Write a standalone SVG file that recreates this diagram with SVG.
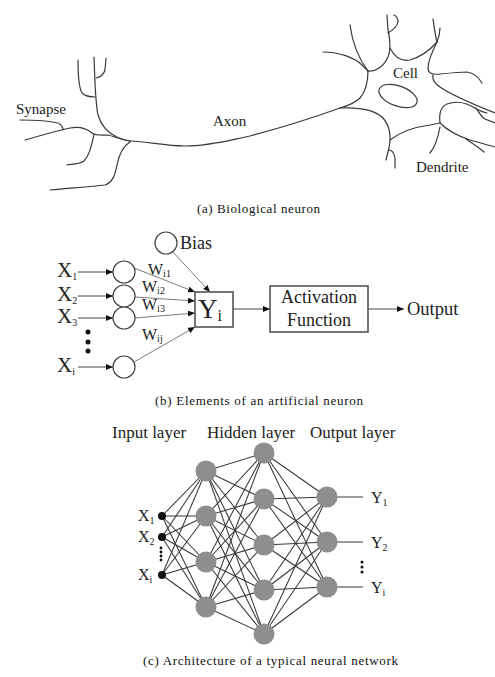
<svg xmlns="http://www.w3.org/2000/svg" width="495" height="677" viewBox="0 0 495 677">
  <style>
    .t { font-family: "Liberation Serif", "Times New Roman", serif; fill: #222; }
    .cap { font-family: "Liberation Serif", "Times New Roman", serif; fill: #111; font-size: 13px; }
    .bio { fill: none; stroke: #3a3a3a; stroke-width: 1.2; stroke-linecap: round; }
    .wire { stroke: #444; stroke-width: 1; fill: none; }
    .wlight { stroke: #7a7a7a; stroke-width: 1; fill: none; }
    .circ { fill: #fff; stroke: #444; stroke-width: 1.2; }
    .box { fill: #fff; stroke: #555; stroke-width: 1.6; }
    .net { stroke: #383838; stroke-width: 1.05; }
    .unit { fill: #8e8e8e; }
    .inp { fill: #111; }
  </style>
  <defs>
    <marker id="arrow" markerUnits="userSpaceOnUse" markerWidth="7" markerHeight="6" refX="7" refY="3" orient="auto">
      <path d="M0,0 L7,3 L0,6 z" fill="#111"/>
    </marker>
  </defs>
  <rect width="495" height="677" fill="#fff"/>

  <!-- (a) biological neuron -->
  <g id="bio-neuron">
    <!-- synapse terminals -->
    <path class="bio" d="M78,60 C78,75 79,88 82,93 C85,96 90,97 95,97"/>
    <path class="bio" d="M94,57 C95,80 95,100 98,115 C101,125 108,133 117,137 C122,139 126,141 130,141"/>
    <path class="bio" d="M96,78 C100,77 104,74 105,70 L106,58"/>
    <path class="bio" d="M20,120 C35,120 50,121 58,123 C62,125 63,128 63,130"/>
    <path class="bio" d="M25,140 C40,136 55,131 70,128 C80,126 86,128 92,133 C96,136 104,135 108,135 C113,136 118,139 130,141"/>
    <path class="bio" d="M94,134 C92,145 89,156 84,161 C80,164 74,164 67,165"/>
    <path class="bio" d="M130,142 C123,146 119,155 117,165 C115,175 113,182 105,185 C90,187 70,188 50,190"/>
    <!-- axon -->
    <path class="bio" d="M130,141 C150,142 165,146 185,146 C210,146 230,140 250,136 C280,128 315,117 340,108"/>
    <!-- cell body and dendrites -->
    <path class="bio" d="M323,52 C340,52 355,58 362,65 C365,68 367,70 368,71"/>
    <path class="bio" d="M350,25 C352,40 356,55 368,71"/>
    <path class="bio" d="M368,71 C368,80 367,90 360,98 C354,104 347,106 340,108"/>
    <path class="bio" d="M368,71 C376,72 384,66 388,57 C391,50 390,38 388,30 L387,15"/>
    <path class="bio" d="M388,33 C393,30 397,27 398,22 C398,18 396,16 394,15"/>
    <path class="bio" d="M390,48 C394,56 400,62 410,60 C420,57 430,50 437,42 C439,37 440,33 440,28"/>
    <path class="bio" d="M437,42 C435,35 434,25 433,19"/>
    <path class="bio" d="M437,42 C432,52 428,62 428,68 C428,73 432,75 440,74 C450,73 460,72 467,72 C473,73 478,76 482,83"/>
    <path class="bio" d="M433,75 C432,79 434,83 440,87 C450,94 470,103 495,113"/>
    <ellipse class="bio" cx="398" cy="96" rx="20" ry="10" transform="rotate(20 398 96)"/>
    <path class="bio" d="M340,108 C360,107 375,110 383,118 C390,126 391,138 389,148 L386,160"/>
    <path class="bio" d="M389,150 C392,150 394,153 395,158 L395,168"/>
    <path class="bio" d="M390,140 C400,132 415,127 430,125 L440,123"/>
    <path class="bio" d="M440,123 C439,115 440,107 447,104 C455,101 465,102 473,107 C478,110 482,112 487,113"/>
    <path class="bio" d="M440,123 C447,130 458,136 470,140 C480,143 488,145 495,147"/>
    <path class="bio" d="M466,139 C472,143 478,147 484,152"/>
    <path class="bio" d="M440,127 C438,138 435,147 430,153"/>
    <path class="bio" d="M476,108 C479,112 480,116 485,119 L495,123"/>
    <text class="t" x="16" y="114" font-size="15">Synapse</text>
    <text class="t" x="213" y="126" font-size="15">Axon</text>
    <text class="t" x="393" y="78" font-size="15">Cell</text>
    <text class="t" x="416" y="172" font-size="15">Dendrite</text>
  </g>
  <text class="cap" x="197" y="213" textLength="123" lengthAdjust="spacing">(a) Biological neuron</text>

  <!-- (b) artificial neuron: connectors -->
  <g id="neuron-connectors">
    <line class="wire" x1="78" y1="272" x2="113" y2="272" marker-end="url(#arrow)"/>
    <line class="wire" x1="78" y1="296" x2="113" y2="296" marker-end="url(#arrow)"/>
    <line class="wire" x1="78" y1="318" x2="113" y2="318" marker-end="url(#arrow)"/>
    <line class="wire" x1="78" y1="367" x2="113" y2="367" marker-end="url(#arrow)"/>
    <line class="wlight" x1="134" y1="268" x2="195" y2="292" marker-end="url(#arrow)"/>
    <line class="wlight" x1="135" y1="297" x2="195" y2="301" marker-end="url(#arrow)"/>
    <line class="wlight" x1="135" y1="318" x2="195" y2="313" marker-end="url(#arrow)"/>
    <line class="wlight" x1="134" y1="362" x2="195" y2="327" marker-end="url(#arrow)"/>
    <line class="wlight" x1="172" y1="251" x2="210" y2="292" marker-end="url(#arrow)"/>
    <line class="wire" x1="233" y1="309" x2="270" y2="309" marker-end="url(#arrow)"/>
    <line class="wire" x1="368" y1="309" x2="404" y2="309" marker-end="url(#arrow)"/>
  </g>

  <g id="x1-in"><text class="t" x="57" y="277" font-size="21">X<tspan font-size="10" dy="3">1</tspan></text><circle class="circ" cx="124" cy="272" r="11"/></g>
  <g id="x2-in"><text class="t" x="57" y="301" font-size="21">X<tspan font-size="10" dy="3">2</tspan></text><circle class="circ" cx="124" cy="296" r="11"/></g>
  <g id="x3-in"><text class="t" x="57" y="323" font-size="21">X<tspan font-size="10" dy="3">3</tspan></text><circle class="circ" cx="124" cy="318" r="11"/></g>
  <g id="xi-in"><text class="t" x="57" y="372" font-size="21">X<tspan font-size="10" dy="3">i</tspan></text><circle class="circ" cx="124" cy="367" r="11"/></g>
  <g id="in-ellipsis" fill="#111">
    <circle cx="88" cy="332" r="2.5"/><circle cx="88" cy="342" r="2.5"/><circle cx="88" cy="351" r="2.5"/>
  </g>
  <g id="bias"><circle class="circ" cx="166" cy="243" r="11"/><text class="t" x="180" y="249" font-size="18">Bias</text></g>
  <g id="weights">
    <text class="t" x="148" y="275" font-size="16">W<tspan font-size="10" dy="2">i1</tspan></text>
    <text class="t" x="142" y="292" font-size="16">W<tspan font-size="10" dy="2">i2</tspan></text>
    <text class="t" x="142" y="310" font-size="16">W<tspan font-size="10" dy="2">i3</tspan></text>
    <text class="t" x="142" y="340" font-size="16">W<tspan font-size="10" dy="2">ij</tspan></text>
  </g>
  <g id="sum-yi">
    <rect class="box" x="195" y="292" width="38" height="35"/>
    <text class="t" x="198" y="318" font-size="27">Y<tspan font-size="16" dy="3">i</tspan></text>
  </g>
  <g id="activation">
    <rect class="box" x="270" y="286" width="98" height="46"/>
    <text class="t" x="319" y="303" font-size="18" text-anchor="middle">Activation</text>
    <text class="t" x="319" y="326" font-size="18" text-anchor="middle">Function</text>
  </g>
  <g id="output"><text class="t" x="407" y="315" font-size="18.5">Output</text></g>
  <text class="cap" x="155" y="405" textLength="208" lengthAdjust="spacing">(b) Elements of an artificial neuron</text>

  <!-- (c) network -->
  <g id="layer-titles">
    <text class="t" x="112" y="438" font-size="17">Input layer</text>
    <text class="t" x="207" y="438" font-size="17">Hidden layer</text>
    <text class="t" x="310" y="438" font-size="17">Output layer</text>
  </g>
  <g id="net-connectors" class="net">
    <!-- inputs to first hidden layer -->
    <line x1="162" y1="516" x2="206" y2="471"/><line x1="162" y1="516" x2="206" y2="516"/><line x1="162" y1="516" x2="206" y2="562"/><line x1="162" y1="516" x2="206" y2="607"/>
    <line x1="162" y1="537" x2="206" y2="471"/><line x1="162" y1="537" x2="206" y2="516"/><line x1="162" y1="537" x2="206" y2="562"/><line x1="162" y1="537" x2="206" y2="607"/>
    <line x1="162" y1="575" x2="206" y2="471"/><line x1="162" y1="575" x2="206" y2="516"/><line x1="162" y1="575" x2="206" y2="562"/><line x1="162" y1="575" x2="206" y2="607"/>
    <!-- first hidden to second hidden -->
    <line x1="206" y1="471" x2="264" y2="453"/><line x1="206" y1="471" x2="264" y2="499"/><line x1="206" y1="471" x2="264" y2="545"/><line x1="206" y1="471" x2="264" y2="590"/><line x1="206" y1="471" x2="264" y2="634"/>
    <line x1="206" y1="516" x2="264" y2="453"/><line x1="206" y1="516" x2="264" y2="499"/><line x1="206" y1="516" x2="264" y2="545"/><line x1="206" y1="516" x2="264" y2="590"/><line x1="206" y1="516" x2="264" y2="634"/>
    <line x1="206" y1="562" x2="264" y2="453"/><line x1="206" y1="562" x2="264" y2="499"/><line x1="206" y1="562" x2="264" y2="545"/><line x1="206" y1="562" x2="264" y2="590"/><line x1="206" y1="562" x2="264" y2="634"/>
    <line x1="206" y1="607" x2="264" y2="453"/><line x1="206" y1="607" x2="264" y2="499"/><line x1="206" y1="607" x2="264" y2="545"/><line x1="206" y1="607" x2="264" y2="590"/><line x1="206" y1="607" x2="264" y2="634"/>
    <!-- second hidden to outputs -->
    <line x1="264" y1="453" x2="327" y2="497"/><line x1="264" y1="453" x2="327" y2="542"/><line x1="264" y1="453" x2="327" y2="587"/>
    <line x1="264" y1="499" x2="327" y2="497"/><line x1="264" y1="499" x2="327" y2="542"/><line x1="264" y1="499" x2="327" y2="587"/>
    <line x1="264" y1="545" x2="327" y2="497"/><line x1="264" y1="545" x2="327" y2="542"/><line x1="264" y1="545" x2="327" y2="587"/>
    <line x1="264" y1="590" x2="327" y2="497"/><line x1="264" y1="590" x2="327" y2="542"/><line x1="264" y1="590" x2="327" y2="587"/>
    <line x1="264" y1="634" x2="327" y2="497"/><line x1="264" y1="634" x2="327" y2="542"/><line x1="264" y1="634" x2="327" y2="587"/>
    <!-- output leads -->
    <line x1="327" y1="497" x2="363" y2="497"/><line x1="327" y1="542" x2="363" y2="542"/><line x1="327" y1="587" x2="363" y2="587"/>
  </g>
  <g id="in-1"><circle class="inp" cx="162" cy="516" r="4"/><text class="t" x="138" y="521" font-size="16">X<tspan font-size="10" dy="3">1</tspan></text></g>
  <g id="in-2"><circle class="inp" cx="162" cy="537" r="4"/><text class="t" x="138" y="542" font-size="16">X<tspan font-size="10" dy="3">2</tspan></text></g>
  <g id="in-i"><circle class="inp" cx="162" cy="575" r="4"/><text class="t" x="138" y="580" font-size="16">X<tspan font-size="10" dy="3">i</tspan></text></g>
  <g id="in-dots" fill="#111"><circle cx="161" cy="548" r="1.4"/><circle cx="161" cy="552" r="1.4"/><circle cx="161" cy="556" r="1.4"/><circle cx="161" cy="560" r="1.4"/></g>
  <g id="h1-1"><circle class="unit" cx="206" cy="471" r="10.5"/></g>
  <g id="h1-2"><circle class="unit" cx="206" cy="516" r="10.5"/></g>
  <g id="h1-3"><circle class="unit" cx="206" cy="562" r="10.5"/></g>
  <g id="h1-4"><circle class="unit" cx="206" cy="607" r="10.5"/></g>
  <g id="h2-1"><circle class="unit" cx="264" cy="453" r="10.5"/></g>
  <g id="h2-2"><circle class="unit" cx="264" cy="499" r="10.5"/></g>
  <g id="h2-3"><circle class="unit" cx="264" cy="545" r="10.5"/></g>
  <g id="h2-4"><circle class="unit" cx="264" cy="590" r="10.5"/></g>
  <g id="h2-5"><circle class="unit" cx="264" cy="634" r="10.5"/></g>
  <g id="out-1"><circle class="unit" cx="327" cy="497" r="10.5"/><text class="t" x="371" y="503" font-size="16">Y<tspan font-size="10" dy="3">1</tspan></text></g>
  <g id="out-2"><circle class="unit" cx="327" cy="542" r="10.5"/><text class="t" x="371" y="548" font-size="16">Y<tspan font-size="10" dy="3">2</tspan></text></g>
  <g id="out-i"><circle class="unit" cx="327" cy="587" r="10.5"/><text class="t" x="371" y="593" font-size="16">Y<tspan font-size="10" dy="3">i</tspan></text></g>
  <g id="out-dots" fill="#111"><circle cx="362" cy="562" r="1.5"/><circle cx="362" cy="567" r="1.5"/><circle cx="362" cy="572" r="1.5"/></g>
  <text class="cap" x="143" y="665" textLength="255" lengthAdjust="spacing">(c) Architecture of a typical neural network</text>
</svg>
